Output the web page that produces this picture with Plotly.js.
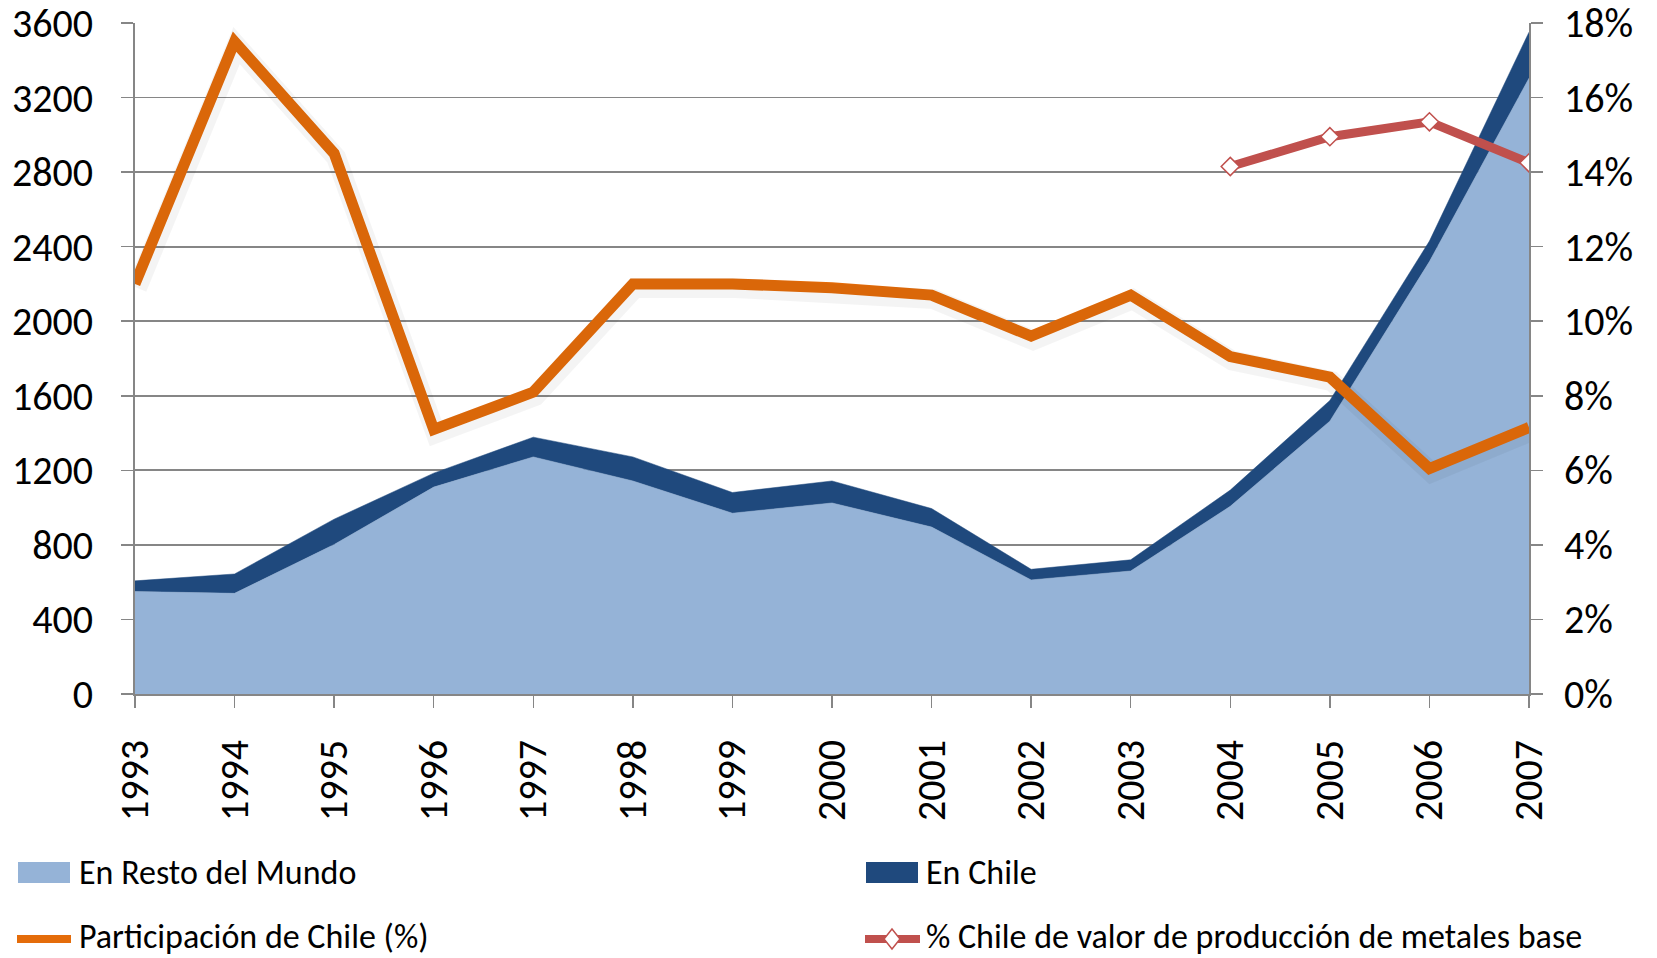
<!DOCTYPE html>
<html>
<head>
<meta charset="utf-8">
<script src="https://cdn.plot.ly/plotly-3.0.1.min.js"></script>
<style>
  html, body { margin: 0; padding: 0; background: #ffffff; }
  #chart { width: 1657px; height: 958px; }
</style>
</head>
<body>
<div id="chart"></div>
<script>
// ---- Data ----
const years = [1993, 1994, 1995, 1996, 1997, 1998, 1999, 2000, 2001, 2002, 2003, 2004, 2005, 2006, 2007];
const restoMundo = [550, 540, 802, 1110, 1272, 1143, 970, 1025, 896, 612, 660, 1007, 1464, 2320, 3304];
const enChile = [57, 104, 136, 75, 106, 129, 111, 118, 99, 57, 60, 87, 111, 110, 247];
const participacionChile = [0.110, 0.175, 0.145, 0.071, 0.081, 0.110, 0.110, 0.109, 0.107, 0.096, 0.107, 0.0905, 0.085, 0.0605, 0.0715];
const metalesBase = [null, null, null, null, null, null, null, null, null, null, null, 0.1415, 0.1495, 0.1535, 0.1425];
const leftTicks = [0, 400, 800, 1200, 1600, 2000, 2400, 2800, 3200, 3600];
const rightTicks = [0, 0.02, 0.04, 0.06, 0.08, 0.10, 0.12, 0.14, 0.16, 0.18];
const legendLabels = ['En Resto del Mundo', 'En Chile', 'Participación de Chile (%)', '% Chile de valor de producción de metales base'];

const FONT = 'Carlito, Lato, "Open Sans", sans-serif';
const COLORS = {resto: '#95B3D7', chile: '#1F497D', orange: '#E46C0A', red: '#C0504D'};

// plot-area geometry (px) used to place the legend keys
const W = 1657, H = 958, L = 135, R = 128, T = 23, B = 264;
const PW = W - L - R, PH = H - T - B;
const px = v => (v - L) / PW;
const py = v => (H - B - v) / PH;

const traces = [
  {
    name: legendLabels[0], x: years, y: restoMundo, type: 'scatter', mode: 'lines',
    stackgroup: 'one', fillcolor: COLORS.resto, line: {color: COLORS.resto, width: 0.5},
    hoverinfo: 'skip'
  },
  {
    name: legendLabels[1], x: years, y: enChile, type: 'scatter', mode: 'lines',
    stackgroup: 'one', fillcolor: COLORS.chile, line: {color: COLORS.chile, width: 0.5},
    hoverinfo: 'skip'
  },
  // soft drop shadow of the orange line (same data, drawn on slightly shifted axes)
  {
    name: 'shadow', x: years, y: participacionChile, type: 'scatter', mode: 'lines',
    xaxis: 'x2', yaxis: 'y3', line: {color: 'rgba(0,0,0,0.045)', width: 20},
    hoverinfo: 'skip', showlegend: false
  },
  {
    name: legendLabels[2], x: years, y: participacionChile, type: 'scatter', mode: 'lines',
    yaxis: 'y2', line: {color: COLORS.orange, width: 11},
    hoverinfo: 'skip'
  },
  {
    name: legendLabels[3], x: years, y: metalesBase, type: 'scatter',
    mode: 'lines+markers', yaxis: 'y2', connectgaps: false,
    line: {color: COLORS.red, width: 9},
    marker: {symbol: 'diamond', size: 14, color: '#FFFFFF', line: {color: COLORS.red, width: 1.5}},
    hoverinfo: 'skip'
  }
];

const shiftX = 2 / PW * 14;      // 2 px to the right
const shiftY = 4 / PH * 0.18;    // 4 px down

// legend keys
const shapes = [
  {type: 'rect', xref: 'paper', yref: 'paper', x0: px(18), x1: px(70), y0: py(862), y1: py(883),
   fillcolor: COLORS.resto, line: {width: 0}},
  {type: 'rect', xref: 'paper', yref: 'paper', x0: px(866), x1: px(918), y0: py(862), y1: py(883),
   fillcolor: COLORS.chile, line: {width: 0}},
  {type: 'line', xref: 'paper', yref: 'paper', x0: px(17), x1: px(71), y0: py(939), y1: py(939),
   line: {color: COLORS.orange, width: 8}},
  {type: 'line', xref: 'paper', yref: 'paper', x0: px(865), x1: px(920), y0: py(939), y1: py(939),
   line: {color: COLORS.red, width: 8}},
  {type: 'path', xref: 'paper', yref: 'paper',
   path: `M${px(892)},${py(929)} L${px(900)},${py(939)} L${px(892)},${py(949)} L${px(884)},${py(939)} Z`,
   fillcolor: '#FFFFFF', line: {color: COLORS.red, width: 1.5}}
];

const legendPos = [[77, 873], [924, 873], [77, 936], [924, 936]];
const annotations = legendLabels.map((t, i) => ({
  text: t, xref: 'paper', yref: 'paper', x: px(legendPos[i][0]), y: py(legendPos[i][1]),
  xanchor: 'left', yanchor: 'middle', showarrow: false,
  font: {family: FONT, size: 34, color: '#000000'}
}));

const tickFont = {family: FONT, size: 40, color: '#000000'};
const layout = {
  width: W, height: H,
  margin: {l: L, r: R, t: T, b: B, autoexpand: false},
  paper_bgcolor: '#ffffff', plot_bgcolor: '#ffffff',
  font: {family: FONT, color: '#000000', size: 34},
  showlegend: false,
  xaxis: {
    type: 'linear', range: [1993, 2007], tickmode: 'array', tickvals: years,
    ticktext: years.map(String), tickangle: -90,
    ticks: 'outside', ticklen: 12, tickcolor: '#868686', tickwidth: 1.5,
    showline: true, linecolor: '#868686', linewidth: 2,
    showgrid: false, zeroline: false, tickfont: tickFont,
    ticklabelstandoff: 16, ticklabeloverflow: 'allow', fixedrange: true, automargin: false
  },
  xaxis2: {
    overlaying: 'x', range: [1993 - shiftX, 2007 - shiftX], visible: false, fixedrange: true
  },
  yaxis: {
    range: [0, 3600], tickmode: 'array', tickvals: leftTicks, ticktext: leftTicks.map(String),
    ticks: 'outside', ticklen: 12, tickcolor: '#868686', tickwidth: 1.5,
    showline: true, linecolor: '#868686', linewidth: 2,
    showgrid: true, gridcolor: '#868686', gridwidth: 1.8, zeroline: false,
    tickfont: tickFont, ticklabelstandoff: 20, ticklabeloverflow: 'allow',
    fixedrange: true, automargin: false
  },
  yaxis2: {
    range: [0, 0.18], overlaying: 'y', side: 'right', tickmode: 'array', tickvals: rightTicks,
    tickformat: '.0%',
    ticks: 'outside', ticklen: 12, tickcolor: '#868686', tickwidth: 1.5,
    showline: true, linecolor: '#868686', linewidth: 2,
    showgrid: false, zeroline: false,
    tickfont: tickFont, ticklabelstandoff: 13, ticklabeloverflow: 'allow',
    fixedrange: true, automargin: false
  },
  yaxis3: {
    range: [shiftY, 0.18 + shiftY], overlaying: 'y', visible: false, fixedrange: true
  },
  shapes: shapes,
  annotations: annotations
};

Plotly.newPlot('chart', traces, layout, {displayModeBar: false, staticPlot: true});
</script>
</body>
</html>
